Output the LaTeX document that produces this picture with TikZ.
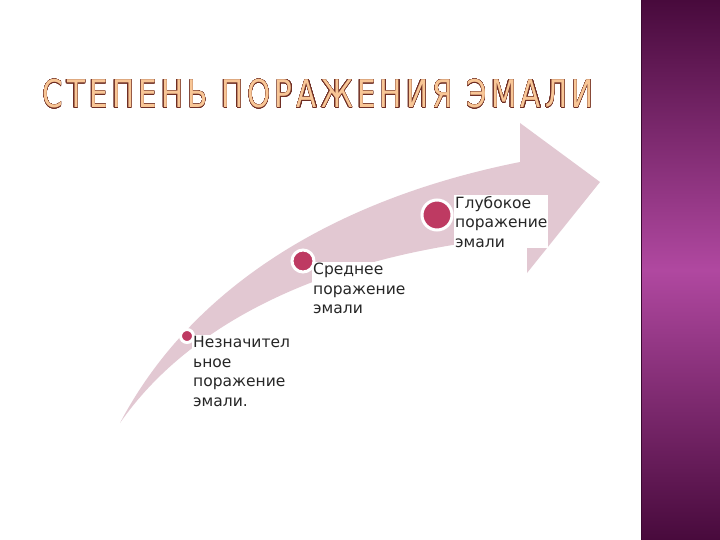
\documentclass[tikz,border=0pt]{standalone}
\usepackage{fontspec}
\setmainfont{DejaVu Sans}
\newfontfamily\titlefont[LetterSpace=14]{DejaVu Sans}
\usepackage[copies]{contour}
\contourlength{0.45pt}
\contournumber{24}
\definecolor{arrowpink}{RGB}{226,200,210}
\definecolor{dotred}{RGB}{190,58,98}
\definecolor{titlefill}{RGB}{248,198,150}
\definecolor{titleline}{RGB}{110,45,35}
\definecolor{bandlow}{RGB}{72,10,60}
\definecolor{bandhigh}{RGB}{176,72,160}
\tikzset{
	dot/.style={circle, fill=dotred, draw=white, line width=3pt, inner sep=0pt},
	stage/.style={anchor=north west, fill=white, inner sep=1pt, align=left,
		font=\fontsize{15.5}{19.5}\selectfont, text=black!85}
}
\begin{document}
\begin{tikzpicture}[x=1pt, y=-1pt]
		\useasboundingbox (0,0) rectangle (720,540);
		\fill[white] (0,0) rectangle (720,540);
		
		%side band
		\shade[top color=bandlow, bottom color=bandlow, middle color=bandhigh] (641,0) rectangle (720,540);
		\draw[bandlow!80!black, line width=1.5pt] (641.5,0) -- (641.5,540);
		
		%title
		\node (title) at (318,94) {\scalebox{0.82}[1.06]{\titlefont\fontsize{36}{36}\selectfont\color{titlefill}\contour{titleline}{СТЕПЕНЬ ПОРАЖЕНИЯ ЭМАЛИ}}};
		
		%curved arrow
		\fill[arrowpink] (120,423) .. controls (190,290) and (330,200) .. (520,162)
			-- (520,123) -- (600,182) -- (527,273) -- (527,236)
			.. controls (330,252) and (190,322) .. (120,423) -- cycle;
		
		%stages
		\node[dot, minimum size=13pt] (dot1) at (187,336) {};
		\node[dot, minimum size=22pt] (dot2) at (303,261) {};
		\node[dot, minimum size=30pt] (dot3) at (437,215) {};
		
		\node[stage] (lbl1) at (192,335) {Незначител\\ьное\\поражение\\эмали.};
		\node[stage] (lbl2) at (312,262) {Среднее\\поражение\\эмали};
		\node[stage] (lbl3) at (454,195) {Глубокое\\поражение\\эмали};
		\end{tikzpicture}
\end{document}
